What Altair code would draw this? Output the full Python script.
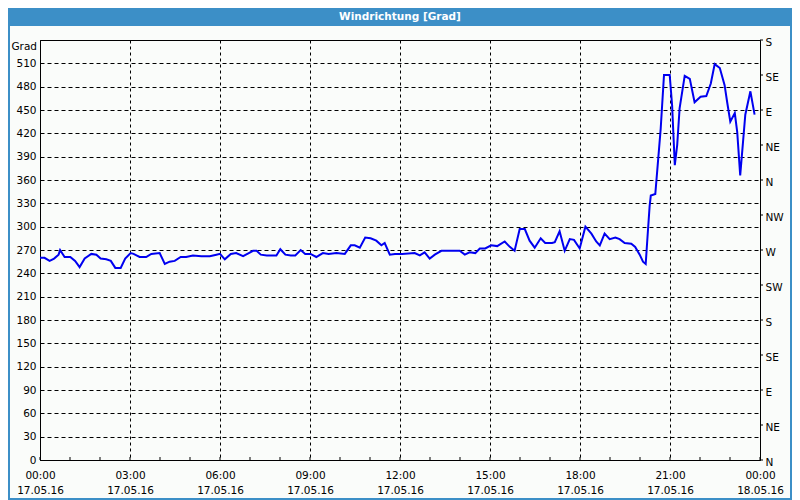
import json
import altair as alt
import pandas as pd

# ---- data (hour of 17.05.16, wind direction in degrees) ----
hours = [0.0, 0.15, 0.32, 0.47, 0.62, 0.67, 0.82, 1.01, 1.17, 1.32, 1.49, 1.71, 1.88,
         2.02, 2.21, 2.36, 2.51, 2.69, 2.84, 3.02, 3.12, 3.32, 3.54, 3.71, 3.99, 4.16,
         4.32, 4.49, 4.69, 4.87, 5.10, 5.38, 5.66, 5.88, 6.00, 6.16, 6.36, 6.54, 6.77,
         6.96, 7.10, 7.22, 7.36, 7.56, 7.88, 8.01, 8.18, 8.36, 8.51, 8.69, 8.84, 9.02,
         9.21, 9.43, 9.62, 9.88, 10.16, 10.36, 10.49, 10.66, 10.84, 11.02, 11.21, 11.38,
         11.49, 11.66, 11.83, 12.07, 12.49, 12.66, 12.82, 12.99, 13.16, 13.38, 13.71,
         13.99, 14.16, 14.32, 14.51, 14.66, 14.84, 15.04, 15.24, 15.49, 15.66, 15.82,
         15.99, 16.16, 16.32, 16.49, 16.69, 16.84, 17.07, 17.16, 17.32, 17.49, 17.66,
         17.80, 17.99, 18.18, 18.38, 18.54, 18.66, 18.82, 18.99, 19.18, 19.32, 19.49,
         19.71, 19.84, 19.99, 20.10, 20.19, 20.24, 20.32, 20.36, 20.51, 20.60, 20.69,
         20.80, 20.99, 21.07, 21.16, 21.24, 21.32, 21.49, 21.66, 21.82, 22.02, 22.21,
         22.36, 22.49, 22.66, 22.82, 22.91, 23.01, 23.16, 23.24, 23.34, 23.43, 23.51,
         23.68, 23.82]
degrees = [260, 260, 256, 259, 264, 270, 261, 261, 256, 248, 259, 265, 264,
           259, 258, 256, 247, 247, 259, 266, 265, 261, 261, 265, 266, 252,
           255, 256, 261, 261, 263, 262, 262, 264, 265, 258, 265, 266, 262,
           266, 269, 269, 264, 263, 263, 271, 264, 263, 263, 270, 265, 265,
           261, 266, 265, 266, 265, 276, 276, 273, 286, 285, 282, 276,
           279, 264, 265, 265, 266, 263, 267, 259, 264, 269, 269,
           269, 264, 267, 266, 272, 272, 276, 275, 281, 274, 269,
           297, 297, 282, 273, 285, 279, 279, 280, 294, 269, 284,
           283, 272, 300, 291, 281, 276, 291, 284, 286, 284, 279,
           278, 274, 264, 255, 252, 281, 326, 340, 342, 384, 426,
           495, 495, 456, 379, 405, 452, 494, 490, 460, 467, 468,
           484, 509, 504, 482, 459, 435, 446, 422, 366, 407, 444,
           474, 444]

x_ticks = [0, 3, 6, 9, 12, 15, 18, 21, 24]
minor_hours = list(range(0, 25))
y_ticks = list(range(0, 511, 30))
compass_deg = list(range(0, 541, 45))
compass_names = ["N", "NE", "E", "SE", "S", "SW", "W", "NW"]
title_text = "Windrichtung [Grad]"
unit_text = "Grad"

df = pd.DataFrame({"h": hours, "deg": degrees})
df_minor = pd.DataFrame({"h": minor_hours})
df_comp = pd.DataFrame({"cdeg": compass_deg})

FONT = "DejaVu Sans"
FS = 10.5
BLUE = "#3c8fc7"
W, H = 720, 420

xscale = alt.Scale(domain=[0, 24], nice=False, zero=False)
yscale = alt.Scale(domain=[0, 540], nice=False, zero=True)

x_label_expr = ("[(datum.value % 24 < 10 ? '0' : '') + (datum.value % 24) + ':00', "
                "datum.value < 24 ? '17.05.16' : '18.05.16']")

x_axis = alt.Axis(
    values=x_ticks, grid=True, gridDash=[3, 3], gridColor="black", gridOpacity=1,
    gridWidth=1, ticks=False, tickSize=0, domain=True, domainColor="black",
    labelExpr=x_label_expr, labelFont=FONT, labelFontSize=FS, labelColor="black",
    labelPadding=10, labelLineHeight=15, labelFlush=False, labelOverlap=False,
    labelAngle=0, title=None)

line = alt.Chart(df).mark_line(color="#0000f0", strokeWidth=2, clip=True).encode(
    x=alt.X("h:Q", scale=xscale, axis=x_axis),
    y=alt.Y("deg:Q", scale=yscale, axis=alt.Axis(
        values=y_ticks, grid=True, gridDash=[4, 3], gridColor="black", gridOpacity=1,
        gridWidth=1, ticks=False, tickSize=0, domain=True, domainColor="black",
        labelFont=FONT, labelFontSize=FS, labelColor="black", labelPadding=4,
        labelFlush=False, labelOverlap=False, title=None)),
)

minor = alt.Chart(df_minor).mark_rule(color="black", strokeWidth=1).encode(
    x=alt.X("h:Q", scale=xscale, axis=x_axis),
    y=alt.value(H - 3), y2=alt.value(H),
)

comp_expr = json.dumps(compass_names) + "[(datum.value / 45) % 8]"
compass = alt.Chart(df_comp).mark_rule(color="black", strokeWidth=1).encode(
    y=alt.Y("cdeg:Q", scale=yscale, axis=alt.Axis(
        orient="right", values=compass_deg, labelExpr=comp_expr, grid=False,
        ticks=False, tickSize=0, domain=False, labelFont=FONT, labelFontSize=FS,
        labelColor="black", labelPadding=5, labelOffset=2, labelFlush=False,
        labelOverlap=False, title=None)),
    x=alt.value(W), x2=alt.value(W + 3),
)

one = alt.Data(values=[{"k": 1}])
bar = alt.Chart(one).mark_rect(color=BLUE).encode(
    x=alt.value(-32), x2=alt.value(W + 32), y=alt.value(-32), y2=alt.value(-14))
title = alt.Chart(one).mark_text(
    text=title_text, color="white", font=FONT, fontSize=FS, fontWeight="bold",
    align="center", baseline="middle").encode(x=alt.value(W / 2), y=alt.value(-23))
unit = alt.Chart(one).mark_text(
    text=unit_text, color="black", font=FONT, fontSize=FS,
    align="right", baseline="middle").encode(x=alt.value(-3), y=alt.value(7))
border = alt.Chart(one).mark_rect(fill=None, stroke=BLUE, strokeWidth=2).encode(
    x=alt.value(-31), x2=alt.value(W + 31), y=alt.value(-31), y2=alt.value(H + 39))

chart = alt.layer(bar, title, line, minor, compass, unit, border).resolve_axis(
    y="independent"
).properties(
    width=W, height=H,
    autosize=alt.AutoSizeParams(type="none"),
    padding={"left": 32, "top": 32, "right": 32, "bottom": 40},
    background="#fafcfa",
).configure_view(stroke="black", strokeWidth=1)

chart.save("out.html", embed_options={"renderer": "svg", "actions": False})
